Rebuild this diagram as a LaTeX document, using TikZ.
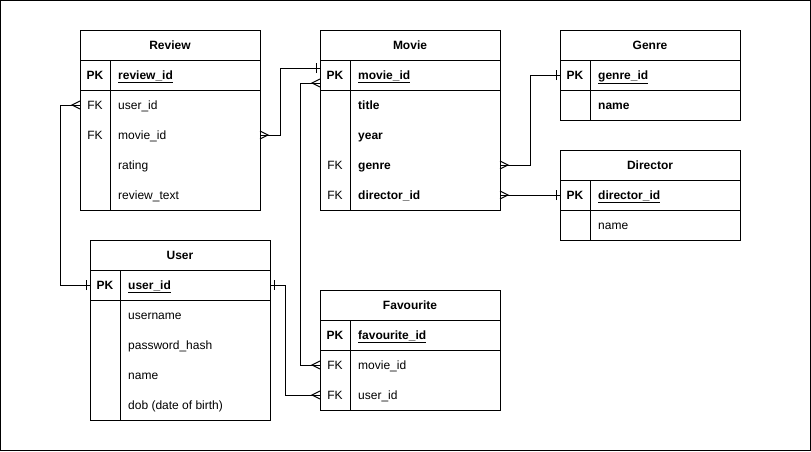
\documentclass[tikz,border=0pt]{standalone}
\usepackage{fontspec}
\setmainfont{Liberation Sans}
\usetikzlibrary{calc}

% base text size for all table cells
\newcommand\erfont{\fontsize{12}{14}\selectfont}

% one attribute row: node name, top-left corner, key label, field text
\newcommand\entrow[4]{%
  \node[rowspan] (#1) at (#2) {};
  \node[keytext] (#1-k) at ($(#1.west)+(15,4.3)$) {#3};
  \node[fieldtext] (#1-f) at ($(#1.west)+(38,4.3)$) {#4};
}

% table outline: header node, primary-key row, last row
\newcommand\entframe[3]{%
  \draw[box] (#1.north west) rectangle (#3.south east);
  \draw[box] (#1.south west) -- (#1.south east);
  \draw[box] (#2.south west) -- (#2.south east);
  \draw[box] ($(#2.north west)+(30,0)$) -- ($(#3.south west)+(30,0)$);
}

\begin{document}
\begin{tikzpicture}[x=1pt,y=-1pt,
  conn/.style={line width=1pt, black},
  box/.style={draw, line width=1pt},
  rowspan/.style={minimum width=180pt, minimum height=30pt, inner sep=0pt,
    outer sep=0pt, anchor=north west},
  hdr/.style={rowspan, font=\erfont\bfseries},
  keytext/.style={inner sep=0pt, anchor=base, font=\erfont},
  fieldtext/.style={inner sep=0pt, anchor=base west, font=\erfont},
  many/.pic={\draw[conn] (0,-4) -- (8,0) -- (0,4);},
  one/.pic={\draw[conn] (4,-5) -- (4,5);}]

\useasboundingbox (0,0) rectangle (811,451);
\draw[line width=1pt] (0.5,0.5) rectangle (810.5,450.5);

% Review
\node[hdr] (rev) at (80,30) {Review};
\entrow{rev-pk}{80,60}{\textbf{PK}}{\textbf{\underline{review\_id}}}
\entrow{rev-user}{80,90}{FK}{user\_id}
\entrow{rev-movie}{80,120}{FK}{movie\_id}
\entrow{rev-rating}{80,150}{}{rating}
\entrow{rev-text}{80,180}{}{review\_text}
\entframe{rev}{rev-pk}{rev-text}

% Movie
\node[hdr] (mov) at (320,30) {Movie};
\entrow{mov-pk}{320,60}{\textbf{PK}}{\textbf{\underline{movie\_id}}}
\entrow{mov-title}{320,90}{}{\textbf{title}}
\entrow{mov-year}{320,120}{}{\textbf{year}}
\entrow{mov-genre}{320,150}{FK}{\textbf{genre}}
\entrow{mov-dir}{320,180}{FK}{\textbf{director\_id}}
\entframe{mov}{mov-pk}{mov-dir}

% Genre
\node[hdr] (gen) at (560,30) {Genre};
\entrow{gen-pk}{560,60}{\textbf{PK}}{\textbf{\underline{genre\_id}}}
\entrow{gen-name}{560,90}{}{\textbf{name}}
\entframe{gen}{gen-pk}{gen-name}

% Director
\node[hdr] (dir) at (560,150) {Director};
\entrow{dir-pk}{560,180}{\textbf{PK}}{\textbf{\underline{director\_id}}}
\entrow{dir-name}{560,210}{}{name}
\entframe{dir}{dir-pk}{dir-name}

% User
\node[hdr] (usr) at (90,240) {User};
\entrow{usr-pk}{90,270}{\textbf{PK}}{\textbf{\underline{user\_id}}}
\entrow{usr-uname}{90,300}{}{username}
\entrow{usr-pass}{90,330}{}{password\_hash}
\entrow{usr-name}{90,360}{}{name}
\entrow{usr-dob}{90,390}{}{dob (date of birth)}
\entframe{usr}{usr-pk}{usr-dob}

% Favourite
\node[hdr] (fav) at (320,290) {Favourite};
\entrow{fav-pk}{320,320}{\textbf{PK}}{\textbf{\underline{favourite\_id}}}
\entrow{fav-movie}{320,350}{FK}{movie\_id}
\entrow{fav-user}{320,380}{FK}{user\_id}
\entframe{fav}{fav-pk}{fav-user}

% relationship end points on the Movie primary-key row
\coordinate (mov-in1) at ($(mov-pk.west)+(0,-7)$);
\coordinate (mov-in2) at ($(mov-pk.west)+(0,8)$);

% relationships
\draw[conn] (rev-movie.east) -- ++(20,0) |- (mov-in1);
\pic at (rev-movie.east) {many};
\pic[rotate=180] at (mov-in1) {one};

\draw[conn] (mov-in2) -- ++(-20,0) |- (fav-movie.west);
\pic[rotate=180] at (mov-in2) {many};
\pic[rotate=180] at (fav-movie.west) {many};

\draw[conn] (rev-user.west) -- ++(-20,0) |- (usr-pk.west);
\pic[rotate=180] at (rev-user.west) {many};
\pic[rotate=180] at (usr-pk.west) {one};

\draw[conn] (usr-pk.east) -- ++(15,0) |- (fav-user.west);
\pic at (usr-pk.east) {one};
\pic[rotate=180] at (fav-user.west) {many};

\draw[conn] (mov-genre.east) -- ++(30,0) |- (gen-pk.west);
\pic at (mov-genre.east) {many};
\pic[rotate=180] at (gen-pk.west) {one};

\draw[conn] (mov-dir.east) -- (dir-pk.west);
\pic at (mov-dir.east) {many};
\pic[rotate=180] at (dir-pk.west) {one};

\end{tikzpicture}
\end{document}
